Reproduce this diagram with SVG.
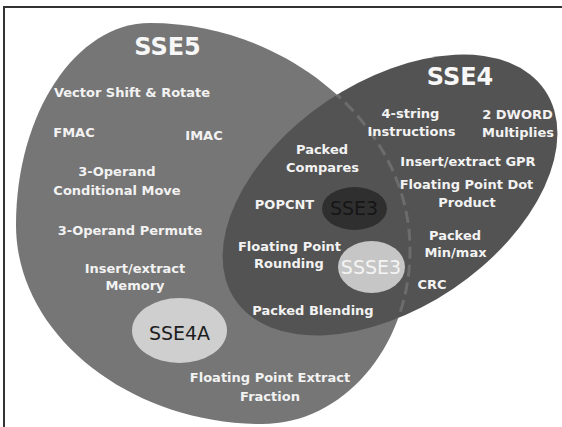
<svg xmlns="http://www.w3.org/2000/svg" width="562" height="427" viewBox="0 0 562 427">
<style>
.t{font-family:"DejaVu Sans",Verdana,sans-serif;font-weight:bold;font-size:13px;fill:#f2f2f2;text-anchor:middle}
.h{font-family:"DejaVu Sans",Verdana,sans-serif;font-weight:bold;font-size:24px;fill:#f7f7f7;text-anchor:middle}
.s{font-family:"DejaVu Sans",Verdana,sans-serif;font-size:19px;text-anchor:middle}
</style>
<defs>
<clipPath id="c4"><ellipse cx="390" cy="195" rx="187" ry="113" transform="rotate(-34 390 195)"/></clipPath>
</defs>
<rect width="562" height="427" fill="#fff"/>
<path d="M4,427 V7 H562" fill="none" stroke="#333" stroke-width="2"/>
<g id="sse5">
<path id="sse5-shape" d="M150,23 C285,23 410,124 410,250 C410,346 343.7,424 262,424 C130,424 16,335 16,225 C16,113.4 76,23 150,23 Z" fill="#767676"/>
</g>
<g id="sse4">
<ellipse cx="390" cy="195" rx="187" ry="113" transform="rotate(-34 390 195)" fill="#535353"/>
</g>
<g id="connectors">
<path clip-path="url(#c4)" d="M150,23 C285,23 410,124 410,250 C410,346 343.7,424 262,424" fill="none" stroke="#6c6c6c" stroke-width="3" stroke-dasharray="12 6"/>
</g>
<g id="sse3">
<ellipse cx="354.5" cy="208.5" rx="32.5" ry="21.5" fill="#2f2f2f"/>
<text class="s" x="354" y="215" fill="#161616">SSE3</text>
</g>
<g id="ssse3">
<ellipse cx="371.5" cy="267" rx="33.5" ry="26" fill="#c6c6c6"/>
<text class="s" x="371" y="274" fill="#f4f4f4">SSSE3</text>
</g>
<g id="sse4a">
<ellipse cx="179.5" cy="330.5" rx="47.5" ry="32.5" fill="#cfcfcf"/>
<text class="s" x="179.5" y="340" fill="#1e1e1e" font-size="20">SSE4A</text>
</g>
<g id="sse5-labels">
<text class="h" x="167.5" y="55">SSE5</text>
<text class="t" x="132" y="97">Vector Shift &amp; Rotate</text>
<text class="t" x="74" y="137">FMAC</text>
<text class="t" x="204" y="140">IMAC</text>
<text class="t" x="117" y="176">3-Operand</text>
<text class="t" x="117" y="195">Conditional Move</text>
<text class="t" x="130" y="235">3-Operand Permute</text>
<text class="t" x="135" y="273">Insert/extract</text>
<text class="t" x="135" y="290">Memory</text>
<text class="t" x="270" y="382">Floating Point Extract</text>
<text class="t" x="270" y="401">Fraction</text>
</g>
<g id="overlap-labels">
<text class="t" x="322" y="154">Packed</text>
<text class="t" x="322.5" y="172">Compares</text>
<text class="t" x="284.5" y="209">POPCNT</text>
<text class="t" x="289.5" y="251">Floating Point</text>
<text class="t" x="289" y="268">Rounding</text>
<text class="t" x="313" y="315">Packed Blending</text>
</g>
<g id="sse4-labels">
<text class="h" x="460" y="85">SSE4</text>
<text class="t" x="410.5" y="118">4-string</text>
<text class="t" x="411.5" y="136">Instructions</text>
<text class="t" x="517.5" y="119">2 DWORD</text>
<text class="t" x="518" y="137">Multiplies</text>
<text class="t" x="468" y="166">Insert/extract GPR</text>
<text class="t" x="466.5" y="189">Floating Point Dot</text>
<text class="t" x="467" y="207">Product</text>
<text class="t" x="455" y="240">Packed</text>
<text class="t" x="455.5" y="257">Min/max</text>
<text class="t" x="432" y="289">CRC</text>
</g>
</svg>
